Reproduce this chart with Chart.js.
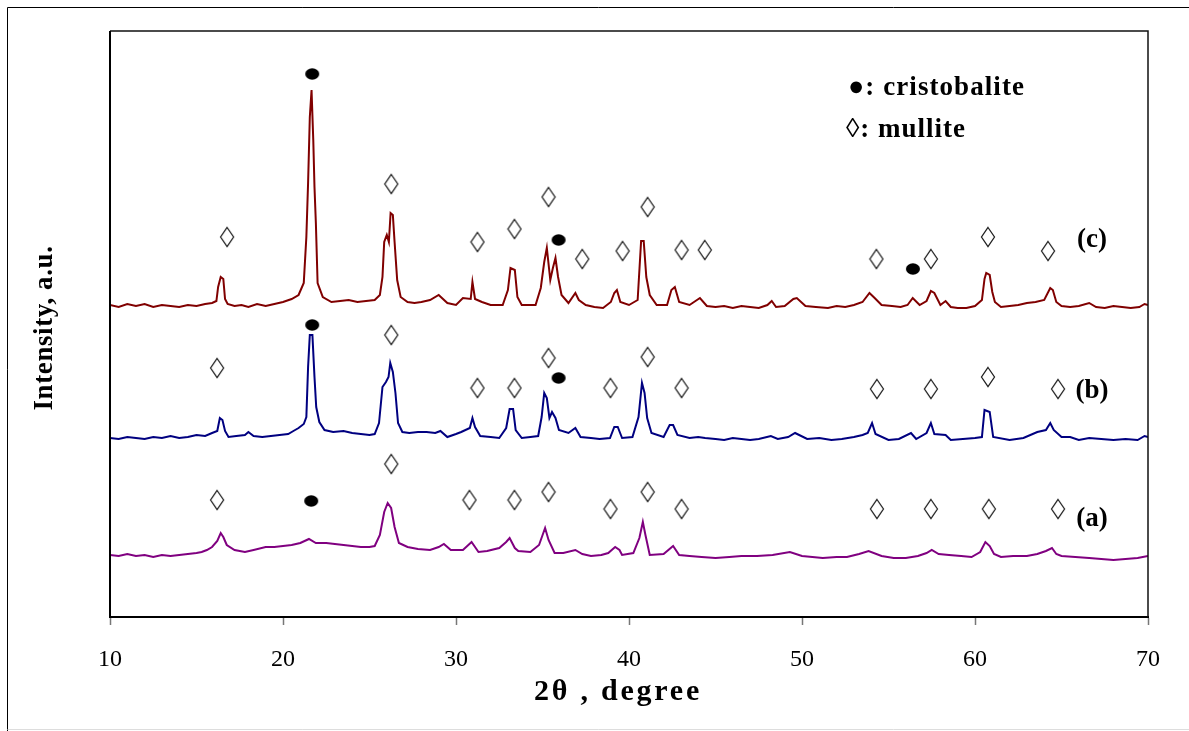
<!DOCTYPE html>
<html lang="en">
<head>
  <meta charset="UTF-8" />
  <title>XRD patterns</title>
  <script src="https://cdn.jsdelivr.net/npm/chart.js"></script>
  <style>
    html, body { margin: 0; padding: 0; background: #fff; }
    #wrap { width: 1189px; height: 731px; }
  </style>
</head>
<body>
<div id="wrap"><canvas id="xrd"></canvas></div>
<script>
  // x axis ticks
  const xTicks = [10, 20, 30, 40, 50, 60, 70];

  // pattern (c)
  const thetaC = [10.0,10.5,11.0,11.5,12.0,12.5,13.0,13.5,14.0,14.5,15.0,15.5,15.9,16.15,16.25,16.4,16.55,16.65,16.8,17.2,17.6,18.0,18.5,19.0,19.5,20.0,20.5,20.9,21.2,21.35,21.45,21.55,21.65,21.75,21.82,21.9,22.0,22.3,22.8,23.3,23.8,24.3,24.8,25.3,25.6,25.75,25.85,26.0,26.12,26.22,26.35,26.45,26.6,26.8,27.2,27.6,28.0,28.5,29.0,29.5,30.0,30.4,30.85,30.95,31.1,31.5,32.0,32.7,33.0,33.15,33.4,33.55,33.8,34.6,34.9,35.1,35.25,35.45,35.6,35.75,35.9,36.1,36.5,36.9,37.1,37.5,38.0,38.5,38.95,39.15,39.3,39.5,40.0,40.5,40.7,40.85,41.0,41.2,41.6,42.2,42.45,42.65,42.9,43.5,44.1,44.5,45.0,45.5,46.0,46.5,47.0,47.5,48.0,48.25,48.5,49.0,49.5,49.7,50.2,50.8,51.5,52.0,52.5,53.0,53.5,53.9,54.2,54.6,55.2,55.7,56.1,56.4,56.8,57.2,57.45,57.65,58.0,58.3,58.6,59.0,59.5,60.0,60.4,60.55,60.65,60.85,61.0,61.15,61.5,62.0,62.5,63.0,63.5,64.0,64.35,64.5,64.7,65.0,65.5,66.0,66.6,67.0,67.5,68.0,68.5,69.0,69.5,69.8,70.0];
  const intC = [312,310,313,311,313,310,312,311,310,312,311,313,314,316,330,340,338,318,313,311,312,310,313,311,313,315,318,322,334,380,434,500,527,477,430,394,334,320,315,316,317,315,316,317,322,340,375,382,375,404,402,375,337,320,315,314,315,317,322,314,312,319,318,335,318,315,312,312,327,349,347,320,312,312,329,355,369,337,349,359,340,322,314,324,317,312,310,309,315,324,327,315,312,317,376,376,340,322,312,312,327,330,315,312,319,311,310,311,309,311,310,309,312,316,310,311,318,319,311,310,309,311,310,312,315,324,319,312,311,310,312,319,312,316,326,324,312,316,310,309,309,311,317,338,344,342,325,315,310,311,312,314,315,317,329,327,315,311,310,311,314,310,309,311,310,309,310,313,312];

  // pattern (b)
  const thetaB = [10.0,10.5,11.0,11.5,12.0,12.5,13.0,13.5,14.0,14.5,15.0,15.5,15.9,16.2,16.35,16.5,16.65,16.85,17.3,17.8,18.0,18.3,18.8,19.3,19.8,20.3,20.6,20.9,21.2,21.35,21.45,21.55,21.7,21.82,21.92,22.1,22.4,22.9,23.5,24.0,24.5,25.0,25.3,25.55,25.75,25.95,26.1,26.2,26.35,26.5,26.65,26.9,27.3,27.8,28.3,28.8,29.1,29.5,30.0,30.3,30.8,30.95,31.1,31.4,32.0,32.5,32.9,33.1,33.3,33.45,33.8,34.3,34.75,34.95,35.1,35.25,35.4,35.55,35.75,35.95,36.5,36.9,37.2,37.8,38.3,38.9,39.15,39.35,39.6,40.2,40.55,40.75,40.9,41.05,41.3,42.0,42.35,42.55,42.8,43.5,44.0,44.4,45.0,45.5,46.0,46.5,47.0,47.5,48.2,48.6,49.2,49.6,50.3,51.0,51.7,52.3,53.0,53.5,53.8,54.05,54.25,55.0,55.6,56.3,56.6,57.2,57.45,57.65,58.3,58.6,59.3,60.0,60.4,60.55,60.85,61.05,62.0,62.8,63.6,64.1,64.35,64.55,65.0,65.5,66.0,66.6,67.3,68.0,68.7,69.4,69.8,70.0];
  const intB = [179,178,180,179,178,180,179,181,179,180,182,181,184,186,199,197,186,180,181,182,185,181,180,181,182,183,186,189,193,200,250,282,282,240,210,195,187,185,186,184,183,182,183,194,230,235,240,254,245,224,194,185,184,185,185,184,186,180,183,185,189,199,190,181,180,179,189,208,208,187,179,180,181,200,224,219,199,205,199,187,184,189,180,179,178,179,190,190,179,180,200,234,224,199,184,180,192,192,182,179,180,179,178,177,179,178,177,178,181,178,180,184,178,179,177,178,180,182,184,194,183,177,178,184,178,184,194,183,182,177,178,179,180,207,205,180,177,179,185,187,194,187,180,180,177,179,178,177,178,177,181,180];

  // pattern (a)
  const thetaA = [10.0,10.5,11.0,11.5,12.0,12.5,13.0,13.5,14.0,14.5,15.0,15.3,15.6,15.9,16.2,16.4,16.55,16.75,17.2,17.8,18.3,19.0,19.5,20.0,20.5,21.0,21.5,21.9,22.5,23.0,23.5,24.0,24.5,25.0,25.3,25.6,25.85,26.05,26.25,26.45,26.7,27.2,27.8,28.5,29.0,29.3,29.7,30.4,30.9,31.3,31.8,32.5,32.9,33.1,33.4,33.6,34.3,34.8,35.15,35.35,35.7,36.2,36.9,37.3,37.8,38.4,38.8,39.2,39.45,39.6,40.25,40.6,40.8,40.95,41.2,42.0,42.55,42.9,43.5,44.2,45.0,45.8,46.5,47.4,48.3,49.3,50.0,51.2,52.0,52.6,53.3,53.85,54.6,55.3,56.0,56.7,57.2,57.5,57.9,58.5,59.2,59.8,60.3,60.6,60.85,61.1,61.5,62.2,63.0,63.6,64.1,64.45,64.7,65.0,65.8,66.6,67.3,68.0,68.7,69.4,70.0];
  const intA = [62,61,63,61,62,60,62,61,62,63,64,65,67,70,76,84,80,72,67,65,67,70,70,71,72,74,78,74,74,73,72,71,70,70,71,82,105,114,109,90,74,70,68,67,70,73,67,67,75,65,66,69,75,79,69,66,65,72,89,77,64,64,67,63,61,62,64,70,67,62,64,79,95,82,62,63,71,62,61,60,59,60,61,61,62,65,61,59,60,60,63,66,61,59,59,61,64,67,63,62,61,60,65,75,71,63,60,61,61,63,66,69,63,61,60,59,58,57,58,59,61];

  // phase markers (2θ, height)
  const mulliteX = [16.77,26.26,31.24,33.38,35.35,37.3,39.63,41.08,43.04,44.38,54.3,57.45,60.75,64.22,
                    16.19,26.26,31.24,33.38,35.35,38.93,41.08,43.04,54.33,57.45,60.75,64.8,
                    16.19,26.26,30.78,33.38,35.35,38.93,41.08,43.04,54.33,57.45,60.8,64.8];
  const mulliteY = [380,433,375,388,420,358,366,410,367,367,358,358,380,366,
                    249,282,229,229,259,229,260,229,228,228,240,228,
                    117,153,117,117,125,108,125,108,108,108,108,108];
  const cristobaliteX = [21.69,35.93,56.41,21.69,35.93,21.63];
  const cristobaliteY = [543,377,348,292,239,116];

  const serif = '"Liberation Serif", "Times New Roman", serif';

  function pts(xs, ys) { return xs.map((x, i) => ({ x: x, y: ys[i] })); }

  // stretch text with letter spacing so it covers a given width
  function spacedText(ctx, text, x, y, width, align) {
    ctx.letterSpacing = '0px';
    const w = ctx.measureText(text).width;
    const n = [...text].length;
    const sp = Math.max(0, (width - w) / n);
    ctx.letterSpacing = sp + 'px';
    const full = w + sp * n;
    let left = x;
    if (align === 'center') left = x - full / 2;
    ctx.textAlign = 'left';
    ctx.fillText(text, left, y);
    ctx.letterSpacing = '0px';
  }

  // open lozenge marker
  const diamond = document.createElement('canvas');
  diamond.width = 16; diamond.height = 22;
  (function () {
    const c = diamond.getContext('2d');
    c.strokeStyle = '#222';
    c.lineWidth = 1.3;
    c.beginPath();
    c.moveTo(8, 1.5); c.lineTo(14.5, 11); c.lineTo(8, 20.5); c.lineTo(1.5, 11); c.closePath();
    c.stroke();
  })();

  // filled dot marker
  const dot = document.createElement('canvas');
  dot.width = 16; dot.height = 14;
  (function () {
    const c = dot.getContext('2d');
    c.fillStyle = '#000';
    c.beginPath();
    c.ellipse(8, 7, 7, 5.8, 0, 0, Math.PI * 2);
    c.fill();
  })();

  const decor = {
    id: 'decor',
    afterDraw(chart) {
      const ctx = chart.ctx;
      const a = chart.chartArea;
      ctx.save();
      // outer frame
      ctx.strokeStyle = '#000';
      ctx.lineWidth = 1;
      ctx.beginPath();
      ctx.moveTo(7.5, 731); ctx.lineTo(7.5, 7.5); ctx.lineTo(1189, 7.5);
      ctx.stroke();
      ctx.strokeStyle = '#ddd';
      ctx.beginPath();
      ctx.moveTo(7.5, 729.5); ctx.lineTo(1189, 729.5);
      ctx.stroke();
      // plot frame
      ctx.strokeStyle = '#111';
      ctx.lineWidth = 1.5;
      ctx.beginPath();
      ctx.moveTo(a.left, a.top); ctx.lineTo(a.right, a.top); ctx.lineTo(a.right, a.bottom);
      ctx.stroke();
      ctx.lineWidth = 2;
      ctx.strokeStyle = '#000';
      ctx.beginPath();
      ctx.moveTo(a.left, a.top); ctx.lineTo(a.left, a.bottom);
      ctx.stroke();

      ctx.fillStyle = '#000';
      ctx.textBaseline = 'middle';
      ctx.font = 'bold 27px ' + serif;
      spacedText(ctx, '\u25CF: cristobalite', 848, 88, 177, 'left');
      spacedText(ctx, '\u25CA: mullite', 846, 130, 120, 'left');

      ctx.font = 'bold 27px ' + serif;
      ctx.textAlign = 'center';
      ctx.fillText('(c)', 1092, 240);
      ctx.fillText('(b)', 1092, 391);
      ctx.fillText('(a)', 1092, 519);

      ctx.font = 'bold 30px ' + serif;
      spacedText(ctx, '2\u03B8 , degree', 618, 692, 168, 'center');
      ctx.translate(45, 328);
      ctx.rotate(-Math.PI / 2);
      ctx.font = 'bold 27px ' + serif;
      spacedText(ctx, 'Intensity, a.u.', 0, 0, 165, 'center');
      ctx.restore();
    }
  };

  const lineStyle = { showLine: true, borderWidth: 2, pointRadius: 0, tension: 0, fill: false };

  new Chart(document.getElementById('xrd'), {
    type: 'scatter',
    data: {
      datasets: [
        Object.assign({ label: '(c)', data: pts(thetaC, intC), borderColor: '#800000' }, lineStyle),
        Object.assign({ label: '(b)', data: pts(thetaB, intB), borderColor: '#000080' }, lineStyle),
        Object.assign({ label: '(a)', data: pts(thetaA, intA), borderColor: '#800080' }, lineStyle),
        { label: 'mullite', data: pts(mulliteX, mulliteY), pointStyle: diamond, pointRadius: 8, showLine: false },
        { label: 'cristobalite', data: pts(cristobaliteX, cristobaliteY), pointStyle: dot, pointRadius: 7, showLine: false }
      ]
    },
    options: {
      responsive: true,
      maintainAspectRatio: false,
      animation: false,
      layout: { padding: { left: 110, top: 31, right: 41, bottom: 0 } },
      plugins: {
        legend: { display: false },
        tooltip: { enabled: false }
      },
      scales: {
        x: {
          type: 'linear',
          min: 10,
          max: 70,
          afterBuildTicks: s => { s.ticks = xTicks.map(v => ({ value: v })); },
          afterFit: s => { s.height = 114; },
          border: { display: true, color: '#000', width: 2 },
          grid: { drawOnChartArea: false, drawTicks: true, tickLength: 8, tickColor: '#777', tickWidth: 1.5 },
          ticks: { color: '#000', font: { family: serif, size: 24 }, padding: 20, maxRotation: 0 }
        },
        y: {
          display: false,
          min: 0,
          max: 586
        }
      }
    },
    plugins: [decor]
  });
</script>
</body>
</html>
